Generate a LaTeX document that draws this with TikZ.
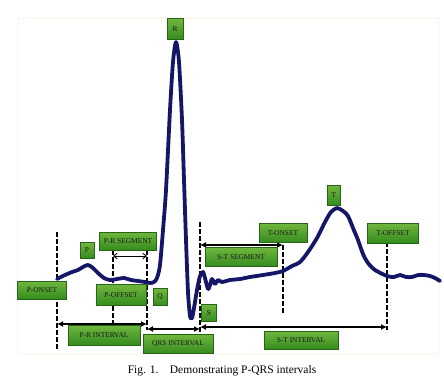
\documentclass[tikz,border=0pt]{standalone}
\usepackage{fontspec}
\setmainfont{Liberation Serif}
\usetikzlibrary{arrows.meta,shadows}

\definecolor{ecgblue}{RGB}{22,22,105}
\definecolor{boxtop}{RGB}{112,182,62}
\definecolor{boxbot}{RGB}{52,140,30}
\definecolor{boxline}{RGB}{40,100,22}
\definecolor{framecol}{RGB}{246,238,226}

\begin{document}
\begin{tikzpicture}[
      x=1pt, y=-1pt,
      tag/.style={rectangle, draw=boxline, line width=0.4pt, top color=boxtop, bottom color=boxbot,
                  drop shadow={opacity=0.35, shadow xshift=0.8pt, shadow yshift=-0.8pt},
                  font=\fontsize{7.4}{8}\selectfont, text=black!90, inner sep=1pt, minimum height=18pt},
      marker/.style={dashed, dash pattern=on 4.5pt off 2.5pt, line width=1.2pt, draw=black},
      pointer/.style={line width=1.9pt, {Latex[length=6pt,width=6pt]}-{Latex[length=6pt,width=6pt]}, draw=black},
      spointer/.style={line width=0.9pt, {Straight Barb[length=3.5pt,width=5.5pt]}-{Straight Barb[length=3.5pt,width=5.5pt]}, draw=black}
      ]
      \useasboundingbox (0,0) rectangle (444,381);

      % faint frame round the plot
      \draw[framecol, line width=0.8pt, rounded corners=2pt] (18,18) rectangle (439,354);

      % top and bottom ends of the dashed markers
      \coordinate (pon top) at (57,232);   \coordinate (pon bot) at (57,350);
      \coordinate (poff top) at (113,250); \coordinate (poff bot) at (113,323);
      \coordinate (q top) at (147,250);    \coordinate (q bot) at (147,330);
      \coordinate (s top) at (200,222);    \coordinate (s bot) at (200,332);
      \coordinate (ton top) at (283,245);  \coordinate (ton bot) at (283,313);
      \coordinate (toff top) at (387,242); \coordinate (toff bot) at (387,330);

      \draw[marker] (pon top) -- (pon bot);
      \draw[marker] (poff top) -- (poff bot);
      \draw[marker] (q top) -- (q bot);
      \draw[marker] (s top) -- (s bot);
      \draw[marker] (ton top) -- (ton bot);
      \draw[marker] (toff top) -- (toff bot);

      % the ECG trace
      \draw[ecgblue, line width=3.8pt, line join=round, line cap=round] plot[smooth, tension=0.45] coordinates {
        (57,279) (65,275) (72,272) (78,270) (83,267) (88,265) (93,268) (98,273) (104,278) (110,280)
        (117,279) (124,278) (131,280) (138,281) (145,282) (150,283) (154,282) (157,278) (160,265)
        (163,230) (166,190) (170,110) (173,62) (176,42) (179,62) (182,120) (184,180) (186,240)
        (188,292) (190,316) (192,318) (194,308) (197,290) (200,276) (203,272) (205,278) (208,289)
        (210,285) (212,279) (215,284) (218,280) (222,282) (230,280) (240,279) (250,277) (263,275)
        (275,273) (283,271) (292,266) (300,262) (308,252) (317,238) (325,222) (331,212) (337,208)
        (343,211) (348,216) (353,228) (358,240) (363,254) (368,263) (375,270) (387,276) (394,277)
        (400,275) (406,277) (412,277) (418,275) (424,275) (430,276) (435,278) (440,281)};

      % intervals and segments
      \coordinate (prs a) at (113,256); \coordinate (prs b) at (147,256);
      \coordinate (pri a) at (57,324);  \coordinate (pri b) at (147,324);
      \coordinate (qrs a) at (147,329); \coordinate (qrs b) at (200,329);
      \coordinate (sts a) at (200,245); \coordinate (sts b) at (283,245);
      \coordinate (sti a) at (200,327); \coordinate (sti b) at (387,327);

      \draw[spointer] (prs a) -- (prs b);
      \draw[pointer] (pri a) -- (pri b);
      \draw[pointer] (qrs a) -- (qrs b);
      \draw[pointer] (sts a) -- (sts b);
      \draw[pointer] (sti a) -- (sti b);

      % the green tags
      \node[tag, minimum width=16pt, minimum height=21pt] (r) at (175,29) {R};
      \node[tag, minimum width=14pt, minimum height=16pt] (p) at (87,250) {P};
      \node[tag, minimum width=49pt] (ponset) at (42,290) {P-ONSET};
      \node[tag, minimum width=57pt] (prseg) at (128,241) {P-R SEGMENT};
      \node[tag, minimum width=50pt, minimum height=21pt] (poffset) at (121,295) {P-OFFSET};
      \node[tag, minimum width=14pt, minimum height=17pt] (q) at (160,297) {Q};
      \node[tag, minimum width=72pt, minimum height=20pt] (print) at (104,335) {P-R INTERVAL};
      \node[tag, minimum width=70pt, minimum height=19pt] (qrsint) at (178,344) {QRS INTERVAL};
      \node[tag, minimum width=15pt, minimum height=17pt] (s) at (209,313) {S};
      \node[tag, minimum width=72pt, minimum height=19pt] (stseg) at (241,257) {S-T SEGMENT};
      \node[tag, minimum width=48pt, minimum height=19pt] (tonset) at (283,233) {T-ONSET};
      \node[tag, minimum width=13pt, minimum height=20pt] (t) at (334,195) {T};
      \node[tag, minimum width=51pt, minimum height=20pt] (toffset) at (393,233) {T-OFFSET};
      \node[tag, minimum width=74pt] (stint) at (301,340) {S-T INTERVAL};

      % caption
      \node[font=\fontsize{11.5}{13}\selectfont] (caption) at (222,371) {Fig. 1.\quad Demonstrating P-QRS intervals};
\end{tikzpicture}
\end{document}
